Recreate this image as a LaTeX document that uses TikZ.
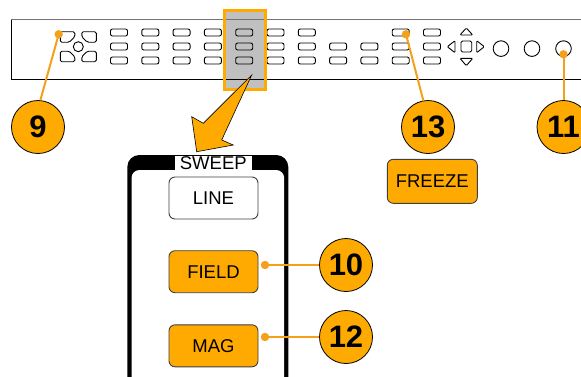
\documentclass[tikz,border=0pt]{standalone}
\usepackage{fontspec}
\setmainfont{Liberation Sans}
\definecolor{TEKorange}{HTML}{FFAA00}
\definecolor{TEKline}{HTML}{F5A01A}
\definecolor{TEKgray}{HTML}{C0C0C0}
\usetikzlibrary{arrows.meta}

\tikzset{
  panelkey/.style={rounded corners=2pt, line width=0.9pt},
  softkey/.style={draw=black!75, rounded corners=6pt, line width=0.9pt, minimum width=89pt,
    minimum height=42pt, inner sep=0pt, font=\fontsize{18.5}{20}\selectfont},
  callout/.style={circle, draw=black, line width=0.8pt, fill=TEKorange, minimum size=53pt,
    inner sep=0pt, font=\fontsize{31}{31}\selectfont\bfseries},
  leader/.style={TEKline, line width=2pt},
}

\begin{document}
\begin{tikzpicture}[x=1pt, y=-1pt]
  \useasboundingbox (0,0) rectangle (581,376);
  \clip (0,0) rectangle (581,376);
  % front panel
  \fill[TEKgray] (224,10) rectangle (265.7,89.3);
  \draw[black!55, line width=1pt] (11,19.5) -- (600,19.5);
  \draw[line width=0.9pt] (11,19.5) -- (11,79) -- (600,79);
  \foreach \sx/\sy in {1/1,-1/1,1/-1,-1/-1}{
    \begin{scope}[shift={(78.3,46.7)}, xscale=\sx, yscale=\sy]
      \draw[panelkey, rounded corners=1.5pt] (-18,-15) -- (-3.5,-15) -- (-3.5,-10) -- (-9,-4.5)
        -- (-18,-4.5) -- cycle;
    \end{scope}
  }
  \draw[line width=0.9pt] (78.3,46.7) circle (5pt);
  \foreach \k in {0,...,10}
    \foreach \r in {46.5,60.5}
      \draw[panelkey] ({119+31.3*\k-8.5},{\r-3.5}) rectangle ++(17,7);
  \foreach \k in {0,...,6,9,10}
    \draw[panelkey] ({119+31.3*\k-8.5},29) rectangle ++(17,7);
  \draw[panelkey, rounded corners=1pt] (460,35) -- (466.3,28) -- (472.7,35) -- cycle;
  \draw[panelkey, rounded corners=1pt] (460,58.3) -- (472.7,58.3) -- (466.3,65.7) -- cycle;
  \draw[panelkey, rounded corners=1pt] (455,40.7) -- (447.3,46.7) -- (455,52.7) -- cycle;
  \draw[panelkey, rounded corners=1pt] (476.7,40.7) -- (484.3,46.7) -- (476.7,52.7) -- cycle;
  \draw[panelkey, rounded corners=1.5pt] (461,41) rectangle (471.7,52);
  \foreach \cx in {501,532,563.5}
    \draw[line width=0.9pt] (\cx,48.6) circle (7.8pt);
  \draw[TEKorange, line width=3pt] (224,10) rectangle (265.7,89.3);
  % zoom arrow
  \filldraw[fill=TEKorange, draw=black, line width=0.6pt] (251.7,75) -- (221.7,140) -- (233.3,145)
    -- (196.7,151.7) -- (191.7,116.7) -- (203.3,123.3) -- cycle;
  % sweep group
  \fill[black, rounded corners=12pt] (127.3,155) rectangle (288.3,400);
  \fill[white, rounded corners=8pt] (131.5,170) rectangle (284.2,400);
  \node[fill=white, minimum width=76.7pt, minimum height=15pt, inner sep=0pt,
    font=\fontsize{18.5}{20}\selectfont] (sweep) at (213.3,163) {SWEEP};
  \node[softkey, fill=white] (line) at (213.5,198) {LINE};
  \node[softkey, fill=TEKorange] (field) at (213.5,271.7) {FIELD};
  \node[softkey, fill=TEKorange] (mag) at (213.5,345.8) {MAG};
  \node[softkey, fill=TEKorange, minimum width=90pt, minimum height=44pt] (freeze) at (432.3,181.3) {FREEZE};
  % callouts
  \node[callout] (c9) at (38,127) {9};
  \node[callout] (c13) at (428,127) {13};
  \node[callout] (c11) at (563.5,127) {11};
  \node[callout] (c10) at (346,265) {10};
  \node[callout] (c12) at (346,337) {12};
  \coordinate (d9) at (58.7,34.3);
  \coordinate (d13) at (406,34.3);
  \coordinate (d11) at (563.5,54.3);
  \coordinate (d10) at (265,265);
  \coordinate (d12) at (265,337);
  \draw[leader] (d9) -- (c9.85);
  \draw[leader] (d13) -- (c13.100);
  \draw[leader] (d11) -- (c11);
  \draw[leader] (d10) -- (c10);
  \draw[leader] (d12) -- (c12);
  \foreach \d in {d9,d13,d11,d10,d12}
    \fill[TEKline] (\d) circle (4.2pt);
\end{tikzpicture}
\end{document}
